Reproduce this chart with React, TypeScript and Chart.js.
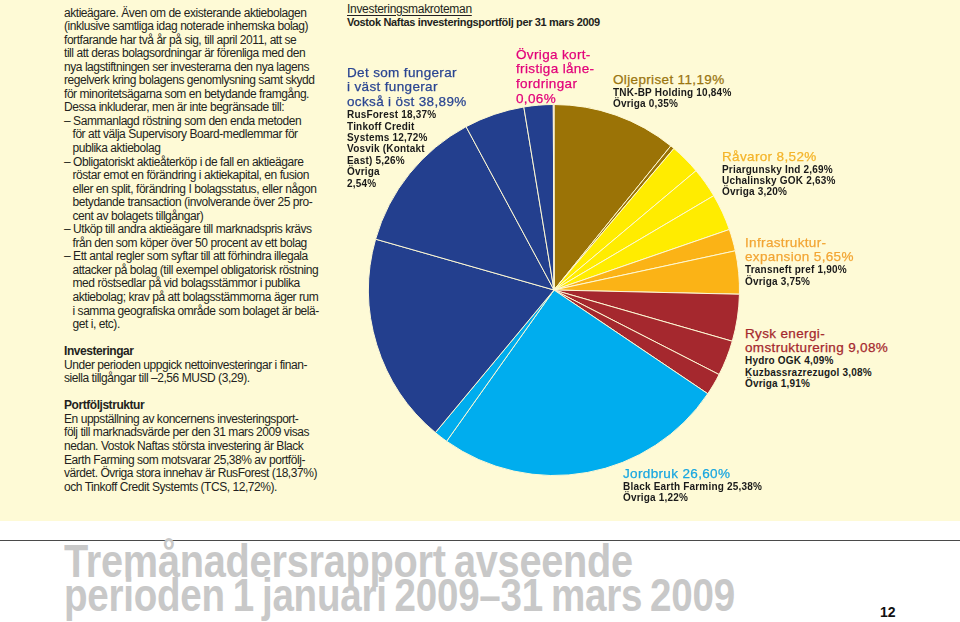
import React, { useEffect, useRef } from "react";
import { Chart, registerables } from "chart.js";

Chart.register(...registerables);

// ---- Data ----
const categories = [
  "TNK-BP Holding",
  "Övriga (Oljepriset)",
  "Priargunsky Ind",
  "Uchalinsky GOK",
  "Övriga (Råvaror)",
  "Transneft pref",
  "Övriga (Infrastruktur)",
  "Hydro OGK",
  "Kuzbassrazrezugol",
  "Övriga (Rysk energi)",
  "Black Earth Farming",
  "Övriga (Jordbruk)",
  "RusForest",
  "Tinkoff Credit Systems",
  "Vosvik (Kontakt East)",
  "Övriga (Öst)",
  "Övriga kortfristiga lånefordringar",
];
const shares = [10.84, 0.35, 2.69, 2.63, 3.2, 1.9, 3.75, 4.09, 3.08, 1.91, 25.38, 1.22, 18.37, 12.72, 5.26, 2.54, 0.06];
const groupOf = [0, 0, 1, 1, 1, 2, 2, 3, 3, 3, 4, 4, 5, 5, 5, 5, 6];

const groupTitles = [
  ["Oljepriset 11,19%"],
  ["Råvaror 8,52%"],
  ["Infrastruktur-", "expansion 5,65%"],
  ["Rysk energi-", "omstrukturering 9,08%"],
  ["Jordbruk 26,60%"],
  ["Det som fungerar", "i väst fungerar", "också i öst 38,89%"],
  ["Övriga kort-", "fristiga låne-", "fordringar", "0,06%"],
];
const groupItems = [
  ["TNK-BP Holding 10,84%", "Övriga 0,35%"],
  ["Priargunsky Ind 2,69%", "Uchalinsky GOK 2,63%", "Övriga 3,20%"],
  ["Transneft pref 1,90%", "Övriga 3,75%"],
  ["Hydro OGK 4,09%", "Kuzbassrazrezugol 3,08%", "Övriga 1,91%"],
  ["Black Earth Farming 25,38%", "Övriga 1,22%"],
  ["RusForest 18,37%", "Tinkoff Credit", "Systems 12,72%", "Vosvik (Kontakt", "East) 5,26%", "Övriga", "2,54%"],
  [],
];

const chartKicker = "Investeringsmakroteman";
const chartTitle = "Vostok Naftas investeringsportfölj per 31 mars 2009";

// ---- Styles / layout ----
const groupColors = ["#9b7306", "#ffec00", "#fbb316", "#a5282e", "#00adee", "#233f8e", "#e5007e"];
const groupTextColors = ["#9a7510", "#f4b42a", "#f2a534", "#a5282e", "#18a6e0", "#2a4592", "#e2007a"];
const labelPos = [
  { x: 613, y: 80 },
  { x: 722, y: 157 },
  { x: 745, y: 243 },
  { x: 745, y: 334 },
  { x: 623, y: 474 },
  { x: 347, y: 73 },
  { x: 516, y: 55 },
];

const bodyLines: { t: string; b?: boolean; ind?: boolean }[] = [
  { t: "aktieägare. Även om de existerande aktiebolagen" },
  { t: "(inklusive samtliga idag noterade inhemska bolag)" },
  { t: "fortfarande har två år på sig, till april 2011, att se" },
  { t: "till att deras bolagsordningar är förenliga med den" },
  { t: "nya lagstiftningen ser investerarna den nya lagens" },
  { t: "regelverk kring bolagens genomlysning samt skydd" },
  { t: "för minoritetsägarna som en betydande framgång." },
  { t: "Dessa inkluderar, men är inte begränsade till:" },
  { t: "– Sammanlagd röstning som den enda metoden" },
  { t: "för att välja Supervisory Board-medlemmar för", ind: true },
  { t: "publika aktiebolag", ind: true },
  { t: "– Obligatoriskt aktieåterköp i de fall en aktieägare" },
  { t: "röstar emot en förändring i aktiekapital, en fusion", ind: true },
  { t: "eller en split, förändring I bolagsstatus, eller någon", ind: true },
  { t: "betydande transaction (involverande över 25 pro-", ind: true },
  { t: "cent av bolagets tillgångar)", ind: true },
  { t: "– Utköp till andra aktieägare till marknadspris krävs" },
  { t: "från den som köper över 50 procent av ett bolag", ind: true },
  { t: "– Ett antal regler som syftar till att förhindra illegala" },
  { t: "attacker på bolag (till exempel obligatorisk röstning", ind: true },
  { t: "med röstsedlar på vid bolagsstämmor i publika", ind: true },
  { t: "aktiebolag; krav på att bolagsstämmorna äger rum", ind: true },
  { t: "i samma geografiska område som bolaget är belä-", ind: true },
  { t: "get i, etc).", ind: true },
  { t: "" },
  { t: "Investeringar", b: true },
  { t: "Under perioden uppgick nettoinvesteringar i finan-" },
  { t: "siella tillgångar till –2,56 MUSD (3,29)." },
  { t: "" },
  { t: "Portföljstruktur", b: true },
  { t: "En uppställning av koncernens investeringsport-" },
  { t: "följ till marknadsvärde per den 31 mars 2009 visas" },
  { t: "nedan. Vostok Naftas största investering är Black" },
  { t: "Earth Farming som motsvarar 25,38% av portfölj-" },
  { t: "värdet. Övriga stora innehav är RusForest (18,37%)" },
  { t: "och Tinkoff Credit Systemts (TCS, 12,72%)." },
];

const pageTitle = ["Tremånadersrapport avseende", "perioden 1 januari 2009–31 mars 2009"];
const pageTitleScale = [0.845, 0.82];
const pageNumber = "12";

const FONT = "'Liberation Sans', Arial, Helvetica, sans-serif";

export default function App() {
  const ref = useRef<HTMLCanvasElement>(null);

  useEffect(() => {
    if (!ref.current) return;
    const chart = new Chart(ref.current, {
      type: "pie",
      data: {
        labels: categories,
        datasets: [
          {
            data: shares,
            backgroundColor: groupOf.map((g) => groupColors[g]),
            borderColor: "#fdf8d4",
            borderWidth: 1,
          },
        ],
      },
      options: {
        responsive: false,
        maintainAspectRatio: false,
        animation: false,
        events: [],
        layout: { padding: 0 },
        plugins: { legend: { display: false }, tooltip: { enabled: false } },
      },
    });
    return () => chart.destroy();
  }, []);

  const LH = 13.55;

  return (
    <div
      style={{
        position: "absolute",
        left: 0,
        top: 0,
        width: 960,
        height: 622,
        overflow: "hidden",
        background: "#ffffff",
        fontFamily: FONT,
      }}
    >
      <div style={{ position: "absolute", left: 0, top: 0, width: 960, height: 521, background: "#fefad6" }} />

      {/* left column text */}
      <div
        style={{
          position: "absolute",
          left: 64,
          top: 6.5,
          fontSize: 12,
          lineHeight: LH + "px",
          letterSpacing: "-0.45px",
          color: "#231f20",
          whiteSpace: "nowrap",
        }}
      >
        {bodyLines.map((l, i) => (
          <div key={i} style={{ height: LH, fontWeight: l.b ? 700 : 400, paddingLeft: l.ind ? 8.5 : 0 }}>
            {l.t}
          </div>
        ))}
      </div>

      {/* chart heading */}
      <div
        style={{
          position: "absolute",
          left: 347,
          top: 2.5,
          fontSize: 12,
          lineHeight: "13px",
          letterSpacing: "-0.3px",
          color: "#231f20",
          textDecoration: "underline",
          textUnderlineOffset: "2px",
          whiteSpace: "nowrap",
        }}
      >
        {chartKicker}
      </div>
      <div
        style={{
          position: "absolute",
          left: 347,
          top: 15.5,
          fontSize: 11,
          lineHeight: "13px",
          fontWeight: 700,
          letterSpacing: "-0.35px",
          color: "#231f20",
          whiteSpace: "nowrap",
        }}
      >
        {chartTitle}
      </div>

      {/* pie */}
      <canvas
        ref={ref}
        width={372}
        height={372}
        style={{ position: "absolute", left: 368, top: 104, width: 372, height: 372 }}
      />

      {/* group labels */}
      {groupTitles.map((lines, g) => {
        const p = labelPos[g];
        const titleLH = 14.8;
        const itemLH = 11.4;
        const titleTop = p.y - titleLH / 2;
        const itemsTop = p.y + (lines.length - 1) * titleLH + 12.3 - itemLH / 2;
        return (
          <React.Fragment key={g}>
            <div
              style={{
                position: "absolute",
                left: p.x,
                top: titleTop,
                fontSize: 13.5,
                lineHeight: titleLH + "px",
                letterSpacing: "0.35px",
                color: groupTextColors[g],
                WebkitTextStroke: "0.25px " + groupTextColors[g],
                whiteSpace: "nowrap",
              }}
            >
              {lines.map((t, i) => (
                <div key={i}>{t}</div>
              ))}
            </div>
            <div
              style={{
                position: "absolute",
                left: p.x,
                top: itemsTop,
                fontSize: 10,
                lineHeight: itemLH + "px",
                fontWeight: 700,
                letterSpacing: "0.2px",
                color: "#1a1a1a",
                whiteSpace: "nowrap",
              }}
            >
              {groupItems[g].map((t, i) => (
                <div key={i}>{t}</div>
              ))}
            </div>
          </React.Fragment>
        );
      })}

      {/* bottom rule */}
      <div style={{ position: "absolute", left: 0, top: 539.5, width: 960, height: 1.5, background: "#4a4a4a" }} />

      {/* page title */}
      {pageTitle.map((t, i) => (
        <div
          key={i}
          style={{
            position: "absolute",
            left: 64,
            top: 537 + i * 34,
            fontSize: 47,
            lineHeight: "47px",
            fontWeight: 700,
            letterSpacing: "-0.3px",
            wordSpacing: "-3px",
            color: "#c8c8c8",
            whiteSpace: "nowrap",
            transform: "scaleX(" + pageTitleScale[i] + ")",
            transformOrigin: "0 0",
          }}
        >
          {t}
        </div>
      ))}

      <div
        style={{
          position: "absolute",
          left: 880,
          top: 604,
          fontSize: 14,
          lineHeight: "16px",
          fontWeight: 700,
          color: "#111",
        }}
      >
        {pageNumber}
      </div>
    </div>
  );
}
